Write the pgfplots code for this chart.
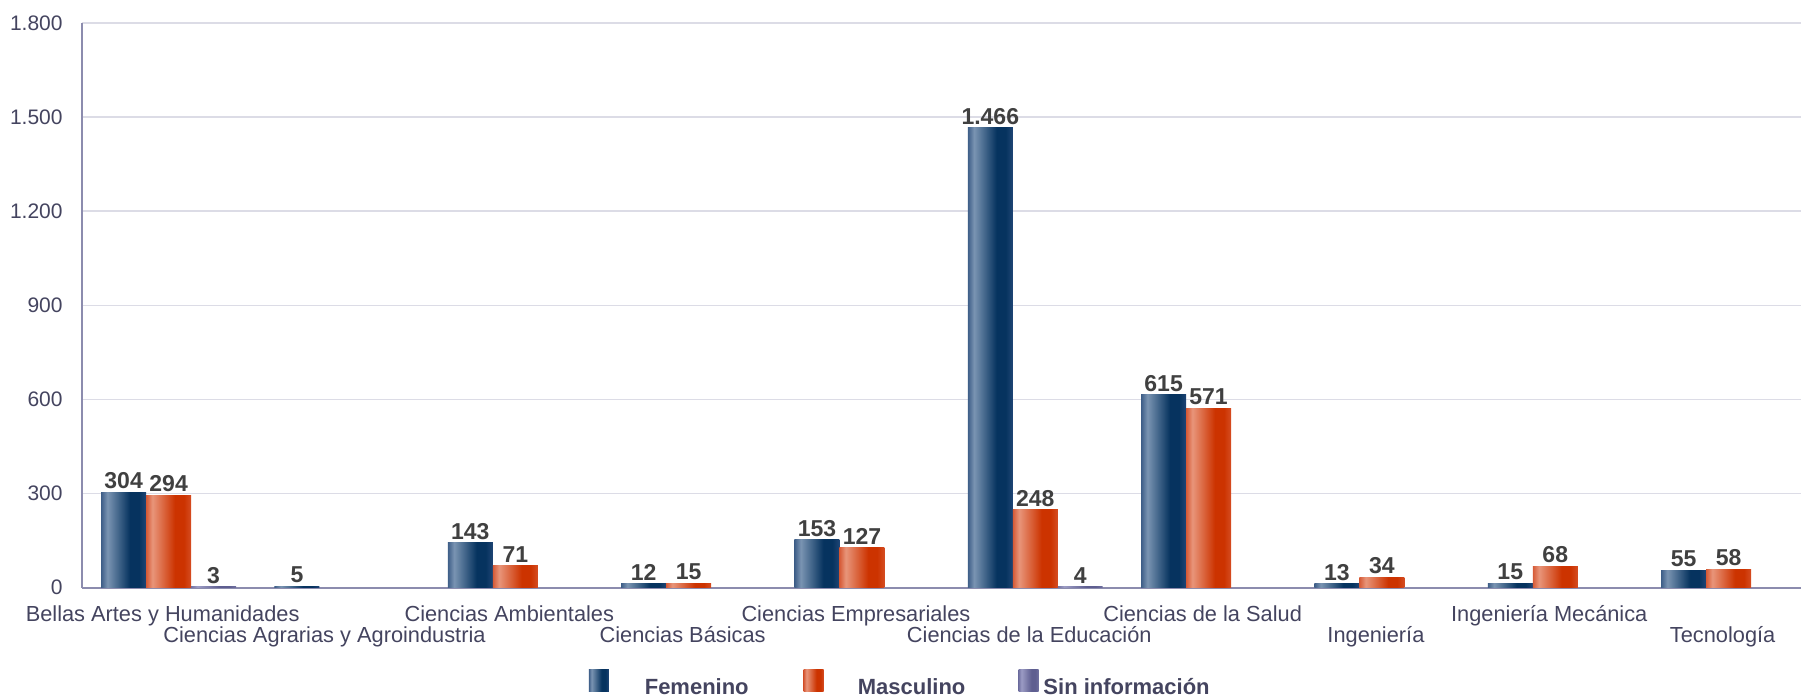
\documentclass[border=0pt]{standalone}
\usepackage{fontspec}
\setmainfont{Liberation Sans}
\usepackage{pgfplots}
\pgfplotsset{compat=1.18}
\definecolor{femA}{HTML}{3E5E88}
\definecolor{femL}{HTML}{7A94B2}
\definecolor{femD}{HTML}{06335F}
\definecolor{femR}{HTML}{1F4575}
\definecolor{masA}{HTML}{D65A36}
\definecolor{masL}{HTML}{E8957A}
\definecolor{masD}{HTML}{CC3300}
\definecolor{masR}{HTML}{D54D22}
\definecolor{sinA}{HTML}{7272A2}
\definecolor{sinL}{HTML}{9C9CC4}
\definecolor{sinD}{HTML}{5E5E90}
\definecolor{sinR}{HTML}{7070A0}
\definecolor{axiscol}{HTML}{8C8CAE}
\definecolor{gridcol}{HTML}{DCDCE6}
\definecolor{labcol}{HTML}{44445F}
\definecolor{valcol}{HTML}{404040}
\pgfdeclarehorizontalshading{femshade}{100bp}{color(0bp)=(femA); color(25bp)=(femA); color(32bp)=(femL); color(57bp)=(femD); color(67bp)=(femD); color(75bp)=(femR); color(100bp)=(femR)}
\pgfdeclarehorizontalshading{masshade}{100bp}{color(0bp)=(masA); color(25bp)=(masA); color(32bp)=(masL); color(57bp)=(masD); color(67bp)=(masD); color(75bp)=(masR); color(100bp)=(masR)}
\pgfdeclarehorizontalshading{sinshade}{100bp}{color(0bp)=(sinA); color(25bp)=(sinA); color(32bp)=(sinL); color(57bp)=(sinD); color(67bp)=(sinD); color(75bp)=(sinR); color(100bp)=(sinR)}
\pgfplotsset{
  femstyle/.style={draw=none, shading=femshade, bar shift=-22.5pt},
  masstyle/.style={draw=none, shading=masshade, bar shift=0pt},
  sinstyle/.style={draw=none, shading=sinshade, bar shift=22.5pt},
}
\newcommand{\barF}[2]{\addplot[femstyle, forget plot] coordinates {(#1,#2)};}
\newcommand{\barM}[2]{\addplot[masstyle, forget plot] coordinates {(#1,#2)};}
\newcommand{\barS}[2]{\addplot[sinstyle, forget plot] coordinates {(#1,#2)};}
\begin{document}
\begin{tikzpicture}
\begin{axis}[
  scale only axis,
  width=860pt, height=282.5pt,
  xmin=-0.5, xmax=9.419,
  ymin=0, ymax=1800,
  ytick={0,300,600,900,1200,1500,1800},
  ymajorgrids, grid style={gridcol, line width=0.8pt},
  axis x line*=bottom, axis y line*=left,
  axis line style={axiscol, line width=0.8pt, -},
  major tick length=0pt,
  ybar=0pt, bar width=22.5pt,
  /pgf/number format/assume math mode=true,
  /pgf/number format/1000 sep={.},
  yticklabel style={font=\fontsize{10.5}{10.5}\selectfont, text=labcol, inner sep=0pt, xshift=-9.5pt},
  xtick={0,1,2,3,4,5,6,7,8,9},
  xticklabels={Bellas Artes y Humanidades,
    \raisebox{-10.5pt}{Ciencias Agrarias y Agroindustria\kern11.5pt},
    Ciencias Ambientales,
    \raisebox{-10.5pt}{Ciencias Básicas},
    Ciencias Empresariales,
    \raisebox{-10.5pt}{Ciencias de la Educación},
    Ciencias de la Salud,
    \raisebox{-10.5pt}{Ingeniería},
    Ingeniería Mecánica,
    \raisebox{-10.5pt}{Tecnología}},
  xticklabel style={font=\fontsize{10.9}{10.9}\selectfont, text=labcol, anchor=base, inner sep=0pt, yshift=-17pt, xshift=-3pt},
  nodes near coords,
  nodes near coords style={font=\bfseries\fontsize{11.5}{11.5}\selectfont, text=valcol, anchor=south, inner sep=0pt, yshift=1.5pt},
  every axis plot post/.append style={legend image code/.code={\path[##1,draw=none] (0pt,-1.7pt) rectangle (10pt,9.3pt);}},
  legend columns=3,
  legend style={draw=none, fill=none, inner sep=0pt, outer sep=0pt,
    at={(0.2948,-0.170)}, anchor=west,
    font=\bfseries\fontsize{11}{11}\selectfont, text=labcol,
    nodes={inner sep=0pt, minimum width=88pt, xshift=2pt},
    /tikz/every even column/.append style={column sep=9.5pt}},
  clip=false,
]
% Femenino
\addplot[femstyle] coordinates {(0,304)};
\barF{1}{5}
\barF{2}{143}
\barF{3}{12}
\barF{4}{153}
\barF{5}{1466}
\barF{6}{615}
\barF{7}{13}
\barF{8}{15}
\barF{9}{55}
% Masculino
\addplot[masstyle] coordinates {(0,294)};
\barM{2}{71}
\barM{3}{15}
\barM{4}{127}
\barM{5}{248}
\barM{6}{571}
\barM{7}{34}
\barM{8}{68}
\barM{9}{58}
% Sin informacion
\addplot[sinstyle] coordinates {(0,3)};
\barS{5}{4}
\legend{Femenino, Masculino, Sin información}
\coordinate (ll) at (rel axis cs:0,0);
\end{axis}
\path (ll) ++(-41pt,-54pt) rectangle ++(901pt,348pt);
\end{tikzpicture}
\end{document}
